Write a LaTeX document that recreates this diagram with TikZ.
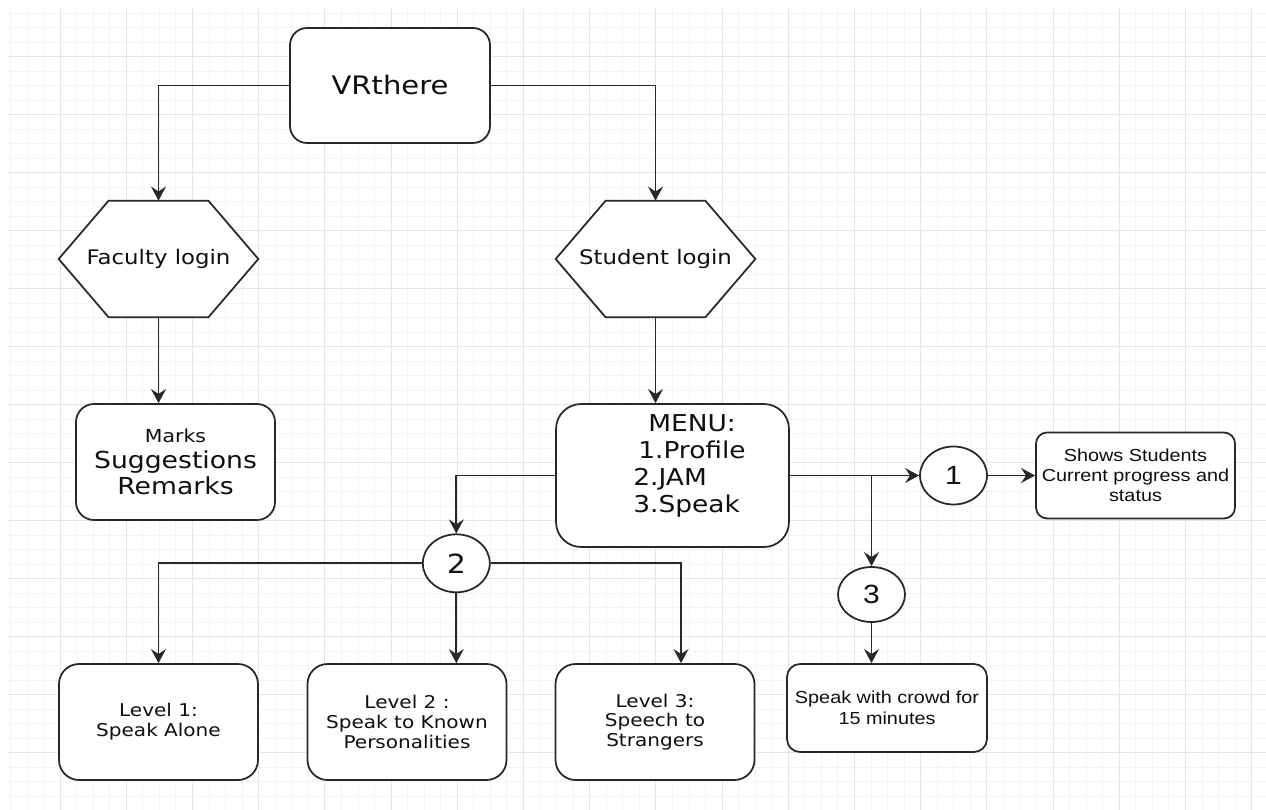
\documentclass[tikz,border=0pt]{standalone}
\usepackage{fontspec}
\usepackage{tikz}
\usetikzlibrary{calc}
\usetikzlibrary{arrows.meta}
\usetikzlibrary{positioning}
\usetikzlibrary{shapes.geometric}
\usetikzlibrary{backgrounds}
\newfontfamily\verdanaish{DejaVu Sans}[FakeStretch=1.14]
\newfontfamily\arialish{Liberation Sans}[FakeStretch=1.14]
\definecolor{inkline}{RGB}{40, 40, 40}
\definecolor{inktext}{RGB}{15, 15, 15}
\definecolor{gridminor}{RGB}{244, 244, 244}
\definecolor{gridmajor}{RGB}{230, 230, 230}

\begin{document}
\begin{tikzpicture}[x=0.02cm, y=-0.02cm,
    box/.style={draw=inkline, fill=white, line width=1pt, rounded corners=#1,
                text=inktext, align=center, inner sep=0pt,
                minimum width=3.98cm, minimum height=2.32cm},
    box/.default=0.36cm,
    hexbox/.style={inner sep=0pt, minimum width=3.98cm, minimum height=2.32cm, text=inktext,
                   font=\verdanaish\fontsize{11.4}{14}\selectfont},
    bubble/.style={ellipse, draw=inkline, fill=white, line width=1pt, inner sep=0pt,
                   minimum width=1.34cm, minimum height=1.16cm, text=inktext,
                   font=\arialish\fontsize{15}{18}\selectfont},
    level/.style={box=0.4cm, font=\verdanaish\fontsize{10}{11.3}\selectfont},
    conn/.style={draw=inkline, line width=1pt, -{Stealth[length=8pt, width=8.5pt, inset=2.8pt]}}]
    \useasboundingbox (0,0) rectangle (1266,810);
    \begin{pgfonlayer}{background}
        \foreach \i in {0,...,75} \draw[gridminor, line width=0.5pt] ({10.4+16.55*\i},7) -- ({10.4+16.55*\i},810);
        \foreach \j in {0,...,54} \draw[gridminor, line width=0.5pt] (7,{13.2+14.5*\j}) -- (1266,{13.2+14.5*\j});
        \foreach \i in {0,...,18} \draw[gridmajor, line width=0.5pt] ({60.1+66.2*\i},7) -- ({60.1+66.2*\i},810);
        \foreach \j in {0,...,12} \draw[gridmajor, line width=0.5pt] (7,{56.7+58*\j}) -- (1266,{56.7+58*\j});
    \end{pgfonlayer}

    \node[box=0.34cm, minimum width=4cm, minimum height=2.3cm,
          font=\verdanaish\fontsize{14.5}{17}\selectfont]          (vr)    at ( 390.0, 85.5) {VRthere};
    \node[hexbox]                                                   (fac)   at ( 158.5,259.0) {Faculty login};
    \node[hexbox]                                                   (stu)   at ( 655.5,259.0) {Student login};
    \node[box, font=\verdanaish\fontsize{13.3}{15}\selectfont]      (marks) at ( 175.5,462.0)
         {{\fontsize{10.2}{15}\selectfont Marks}\\Suggestions\\Remarks};
    \node[box=0.5cm, minimum width=4.66cm, minimum height=2.86cm]   (menu)  at ( 672.5,475.5) {};
    \node[anchor=west, inner sep=0pt, align=left, text=inktext,
          font=\verdanaish\fontsize{13.2}{15.5}\selectfont]         (menutxt) at (633.0,466.0)
         {\hspace*{8.5pt}MENU:\\\hspace*{2.8pt}1.Profile\\2.JAM\\3.Speak};
    \node[bubble]                                                   (c1)    at ( 953.5,475.5) {1};
    \node[box=0.22cm, minimum height=1.72cm,
          font=\arialish\fontsize{9.9}{11.3}\selectfont]            (shows) at (1135.5,475.5)
         {Shows Students\\Current progress and\\status};
    \node[bubble, font=\verdanaish\fontsize{15}{18}\selectfont]     (c2)    at ( 456.3,563.3) {2};
    \node[bubble, minimum height=1.1cm]                             (c3)    at ( 871.5,594.5) {3};
    \node[box=0.26cm, minimum width=4cm, minimum height=1.76cm,
          font=\arialish\fontsize{9.9}{11.9}\selectfont]            (crowd) at ( 887.0,708.0)
         {Speak with crowd for\\15 minutes};
    \node[level]                                                    (lv1)   at ( 158.5,722.0) {Level 1:\\Speak Alone};
    \node[level]                                                    (lv2)   at ( 407.0,722.0) {Level 2 :\\Speak to Known\\Personalities};
    \node[level]                                                    (lv3)   at ( 655.0,722.0) {Level 3:\\Speech to\\Strangers};

    \begin{pgfonlayer}{background}
        \foreach \n in {fac,stu}
            \filldraw[draw=inkline, fill=white, line width=1pt]
                (\n.west) -- ([xshift=1cm]\n.north west) -- ([xshift=-1cm]\n.north east)
                -- (\n.east) -- ([xshift=-1cm]\n.south east) -- ([xshift=1cm]\n.south west) -- cycle;
    \end{pgfonlayer}

    \draw[conn] (vr.west)   -| (fac.north);
    \draw[conn] (vr.east)   -| (stu.north);
    \draw[conn] (fac.south) -- (fac.south |- marks.north);
    \draw[conn] (stu.south) -- (stu.south |- menu.north);
    \draw[conn] (menu.east) -- (c1.west);
    \draw[conn] (menu.east -| c3.north) -- (c3.north);
    \draw[conn] (c1.east)   -- (shows.west);
    \draw[conn] (c3.south)  -- (c3.south |- crowd.north);
    \draw[conn] (menu.west) -| (c2.north);
    \draw[conn] (c2.west)   -| (lv1.north);
    \draw[conn] (c2.south)  -- (c2.south |- lv2.north);
    \draw[conn] (c2.east)   -| ([xshift=0.52cm]lv3.north);
\end{tikzpicture}
\end{document}
